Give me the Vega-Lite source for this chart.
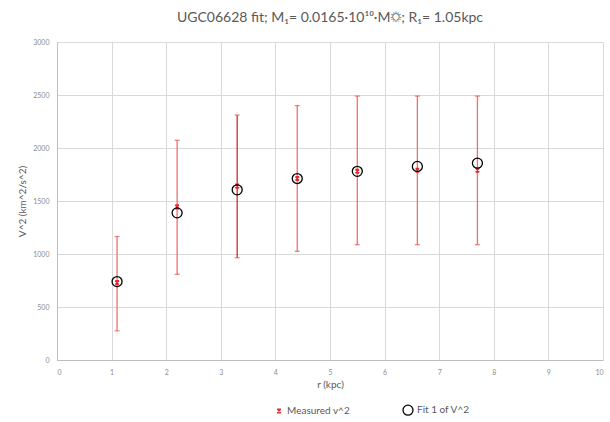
{
  "$schema": "https://vega.github.io/schema/vega-lite/v6.json",
  "autosize": "none",
  "width": 546,
  "height": 318,
  "padding": {"left": 57, "top": 42, "right": 7, "bottom": 62},
  "background": "white",
  "title": {
    "text": "UGC06628 fit; M₁= 0.0165·10¹⁰·M☼; R₁= 1.05kpc",
    "font": "Lato",
    "fontSize": 14,
    "fontWeight": "normal",
    "color": "#595959",
    "offset": 13,
    "anchor": "middle"
  },
  "config": {
    "view": {"stroke": null},
    "font": "Lato",
    "axis": {
      "gridColor": "#d9d9d9",
      "domainColor": "#bfbfbf",
      "ticks": false,
      "labelColor": "#8c8c8c",
      "labelFontSize": 7,
      "titleColor": "#595959",
      "titleFontSize": 10,
      "titleFontWeight": "normal"
    }
  },
  "data": {
    "values": [
      {"r": 1.1, "measured": 730, "lo": 275, "hi": 1165, "fit": 740, "dark": false},
      {"r": 2.2, "measured": 1445, "lo": 808, "hi": 2073, "fit": 1388, "dark": false},
      {"r": 3.3, "measured": 1640, "lo": 965, "hi": 2311, "fit": 1605, "dark": true},
      {"r": 4.4, "measured": 1712, "lo": 1025, "hi": 2400, "fit": 1712, "dark": false},
      {"r": 5.5, "measured": 1780, "lo": 1088, "hi": 2490, "fit": 1780, "dark": false},
      {"r": 6.6, "measured": 1790, "lo": 1088, "hi": 2490, "fit": 1826, "dark": false},
      {"r": 7.7, "measured": 1790, "lo": 1088, "hi": 2490, "fit": 1857, "dark": false}
    ]
  },
  "layer": [
    {
      "transform": [{"filter": "!datum.dark"}],
      "mark": {"type": "rule", "color": "#f07070", "strokeWidth": 1.3},
      "encoding": {
        "x": {"field": "r", "type": "quantitative", "scale": {"domain": [0, 10]},
          "axis": {"title": "r (kpc)", "tickCount": 10, "labelPadding": 8, "titlePadding": 4}},
        "y": {"field": "lo", "type": "quantitative", "scale": {"domain": [0, 3000]},
          "axis": {"title": "V^2 (km^2/s^2)", "format": "d", "values": [0, 500, 1000, 1500, 2000, 2500, 3000], "labelPadding": 8, "titlePadding": 5}},
        "y2": {"field": "hi"}
      }
    },
    {
      "transform": [{"filter": "datum.dark"}],
      "mark": {"type": "rule", "color": "#d42a2a", "strokeWidth": 1.3},
      "encoding": {
        "x": {"field": "r", "type": "quantitative"},
        "y": {"field": "lo", "type": "quantitative"},
        "y2": {"field": "hi"}
      }
    },
    {
      "mark": {"type": "tick", "orient": "horizontal", "color": "#f05050", "size": 5, "thickness": 1.3},
      "encoding": {
        "x": {"field": "r", "type": "quantitative"},
        "y": {"field": "lo", "type": "quantitative"}
      }
    },
    {
      "mark": {"type": "tick", "orient": "horizontal", "color": "#f05050", "size": 5, "thickness": 1.3},
      "encoding": {
        "x": {"field": "r", "type": "quantitative"},
        "y": {"field": "hi", "type": "quantitative"}
      }
    },
    {
      "transform": [
        {"fold": ["measured", "fit"], "as": ["series", "value"]},
        {"calculate": "datum.series == 'measured' ? 'Measured v^2' : 'Fit 1 of V^2'", "as": "Series"}
      ],
      "mark": {"type": "point", "filled": false, "opacity": 1},
      "encoding": {
        "x": {"field": "r", "type": "quantitative"},
        "y": {"field": "value", "type": "quantitative"},
        "color": {"field": "Series", "type": "nominal",
          "scale": {"domain": ["Measured v^2", "Fit 1 of V^2"], "range": ["#e8262b", "#000000"]},
          "legend": {"title": null, "orient": "none", "direction": "horizontal", "legendX": 217, "legendY": 362,
            "labelFontSize": 10, "labelColor": "#595959", "columnPadding": 50, "symbolStrokeWidth": 1.3, "labelOffset": 3,
            "encode": {"symbols": {"update": {"size": {"value": 45}}}}}},
        "shape": {"field": "Series", "type": "nominal",
          "scale": {"domain": ["Measured v^2", "Fit 1 of V^2"], "range": ["M-0.6,-0.6L0.6,0.6M-0.6,0.6L0.6,-0.6M-0.6,-0.6L0.6,-0.6M-0.6,0.6L0.6,0.6", "circle"]}},
        "size": {"field": "Series", "type": "nominal", "legend": null,
          "scale": {"domain": ["Measured v^2", "Fit 1 of V^2"], "range": [40, 100]}},
        "strokeWidth": {"value": 1.3}
      }
    }
  ]
}
